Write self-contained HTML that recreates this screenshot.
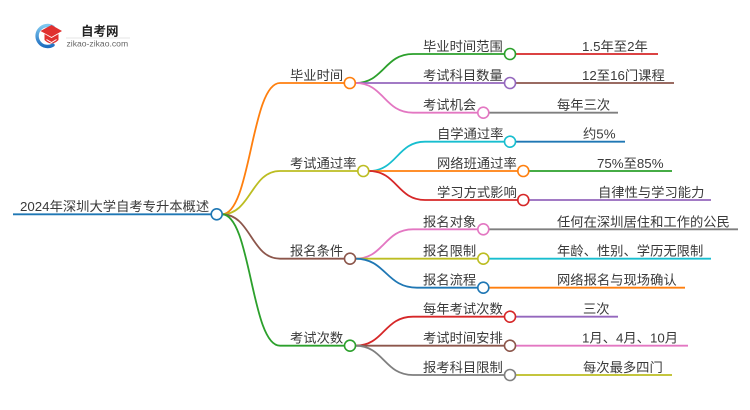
<!DOCTYPE html>
<html><head><meta charset="utf-8"><style>
html,body{margin:0;padding:0;background:#fff;}
svg{display:block;}
text{font-family:"Liberation Sans","Noto Sans CJK SC",sans-serif;font-size:13.3px;fill:#3a3a3a;}
</style></head><body>
<svg width="750" height="410" viewBox="0 0 750 410" xmlns="http://www.w3.org/2000/svg">
<defs>
<linearGradient id="bl" x1="0" y1="0" x2="0" y2="1"><stop offset="0" stop-color="#7fc8f0"/><stop offset="1" stop-color="#1f6fc0"/></linearGradient>
</defs>
<!-- logo -->
<path d="M53 27 A10.5 10.5 0 1 0 53 45" fill="none" stroke="url(#bl)" stroke-width="3.4" stroke-linecap="round"/>
<polygon points="40.5,31 51.5,25 62,31 51.5,37" fill="#e0302f"/>
<path d="M44.5 34 L51.5 38 L58.5 34 L58.5 40 Q51.5 47 44.5 40 Z" fill="#e0302f"/>
<path d="M46.5 39.5 L51.5 42.5 L56.5 39.5" fill="none" stroke="#fff" stroke-width="1"/>
<text x="81" y="35.5" style="font-size:12.5px;font-weight:bold;fill:#222">自考网</text>
<line x1="66" y1="38" x2="130" y2="38" stroke="#e4e4e4" stroke-width="1"/>
<text x="66.5" y="46.5" style="font-size:8.6px;fill:#666">zikao-zikao.com</text>

<g fill="none" stroke-width="1.8">
<!-- root -->
<path d="M13 214.3 H211.2" stroke="#1f77b4"/>
<path d="M222 214.3 C251 214.3 251 83 280 83 H344.2" stroke="#ff7f0e"/>
<path d="M222 214.3 C251 214.3 251 171 280 171 H357.8" stroke="#bcbd22"/>
<path d="M222 214.3 C251 214.3 251 258.7 280 258.7 H344.5" stroke="#8c564b"/>
<path d="M222 214.3 C251 214.3 251 345.7 280 345.7 H344.5" stroke="#2ca02c"/>
<!-- 毕业时间 -->
<path d="M355.5 83 C384 83 384 54 413 54 H504.5" stroke="#2ca02c"/>
<path d="M355.5 83 H504.5" stroke="#9467bd"/>
<path d="M355.5 83 C384 83 384 112.7 413 112.7 H477.8" stroke="#e377c2"/>
<path d="M515.5 54 H658" stroke="#d62728"/>
<path d="M515.5 83 H674" stroke="#8c564b"/>
<path d="M488.8 112.7 H618" stroke="#7f7f7f"/>
<!-- 考试通过率 -->
<path d="M368.8 171 C397 171 397 141.7 425 141.7 H504.5" stroke="#17becf"/>
<path d="M368.8 171 H517.8" stroke="#ff7f0e"/>
<path d="M368.8 171 C397 171 397 200 425 200 H517.8" stroke="#d62728"/>
<path d="M515.5 141.7 H625" stroke="#1f77b4"/>
<path d="M528.8 171 H672" stroke="#2ca02c"/>
<path d="M528.8 200 H711" stroke="#9467bd"/>
<!-- 报名条件 -->
<path d="M355.5 258.7 C384 258.7 384 229.3 413 229.3 H477.8" stroke="#e377c2"/>
<path d="M355.5 258.7 H477.8" stroke="#bcbd22"/>
<path d="M355.5 258.7 C386 258.7 386 287.7 417 287.7 H477.8" stroke="#1f77b4"/>
<path d="M488.8 229.3 H738" stroke="#7f7f7f"/>
<path d="M488.8 258.7 H711" stroke="#17becf"/>
<path d="M488.8 287.7 H685" stroke="#ff7f0e"/>
<!-- 考试次数 -->
<path d="M355.5 345.7 C384 345.7 384 316.7 413 316.7 H504.5" stroke="#d62728"/>
<path d="M355.5 345.7 H504.5" stroke="#8c564b"/>
<path d="M355.5 345.7 C384 345.7 384 375 413 375 H504.5" stroke="#7f7f7f"/>
<path d="M515.5 316.7 H618" stroke="#9467bd"/>
<path d="M515.5 345.7 H688" stroke="#e377c2"/>
<path d="M515.5 375 H672" stroke="#bcbd22"/>
</g>

<g fill="#fff" stroke-width="1.6">
<circle cx="216.7" cy="214.3" r="5.5" stroke="#1f77b4"/>
<circle cx="349.8" cy="83" r="5.5" stroke="#ff7f0e"/>
<circle cx="363.3" cy="171" r="5.5" stroke="#bcbd22"/>
<circle cx="350" cy="258.7" r="5.5" stroke="#8c564b"/>
<circle cx="350" cy="345.7" r="5.5" stroke="#2ca02c"/>
<circle cx="510" cy="54" r="5.5" stroke="#2ca02c"/>
<circle cx="510" cy="83" r="5.5" stroke="#9467bd"/>
<circle cx="483.3" cy="112.7" r="5.5" stroke="#e377c2"/>
<circle cx="510" cy="141.7" r="5.5" stroke="#17becf"/>
<circle cx="523.3" cy="171" r="5.5" stroke="#ff7f0e"/>
<circle cx="523.3" cy="200" r="5.5" stroke="#d62728"/>
<circle cx="483.3" cy="229.3" r="5.5" stroke="#e377c2"/>
<circle cx="483.3" cy="258.7" r="5.5" stroke="#bcbd22"/>
<circle cx="483.3" cy="287.7" r="5.5" stroke="#1f77b4"/>
<circle cx="510" cy="316.7" r="5.5" stroke="#d62728"/>
<circle cx="510" cy="345.7" r="5.5" stroke="#8c564b"/>
<circle cx="510" cy="375" r="5.5" stroke="#7f7f7f"/>
</g>

<text x="20" y="211">2024年深圳大学自考专升本概述</text>
<text x="290" y="80">毕业时间</text>
<text x="290" y="168">考试通过率</text>
<text x="290" y="255.7">报名条件</text>
<text x="290" y="342.7">考试次数</text>

<text x="423" y="51">毕业时间范围</text>
<text x="423" y="80">考试科目数量</text>
<text x="423" y="109.7">考试机会</text>
<text x="437" y="138.7">自学通过率</text>
<text x="437" y="168">网络班通过率</text>
<text x="437" y="197">学习方式影响</text>
<text x="423" y="226.3">报名对象</text>
<text x="423" y="255.7">报名限制</text>
<text x="423" y="284.7">报名流程</text>
<text x="423" y="313.7">每年考试次数</text>
<text x="423" y="342.7">考试时间安排</text>
<text x="423" y="372">报考科目限制</text>

<text x="582" y="51">1.5年至2年</text>
<text x="582" y="80">12至16门课程</text>
<text x="557" y="109.7">每年三次</text>
<text x="583" y="138.7">约5%</text>
<text x="597" y="168">75%至85%</text>
<text x="598" y="197">自律性与学习能力</text>
<text x="557" y="226.3">任何在深圳居住和工作的公民</text>
<text x="557" y="255.7">年龄、性别、学历无限制</text>
<text x="557" y="284.7">网络报名与现场确认</text>
<text x="583" y="313.7">三次</text>
<text x="582" y="342.7">1月、4月、10月</text>
<text x="583" y="372">每次最多四门</text>
</svg>
</body></html>
